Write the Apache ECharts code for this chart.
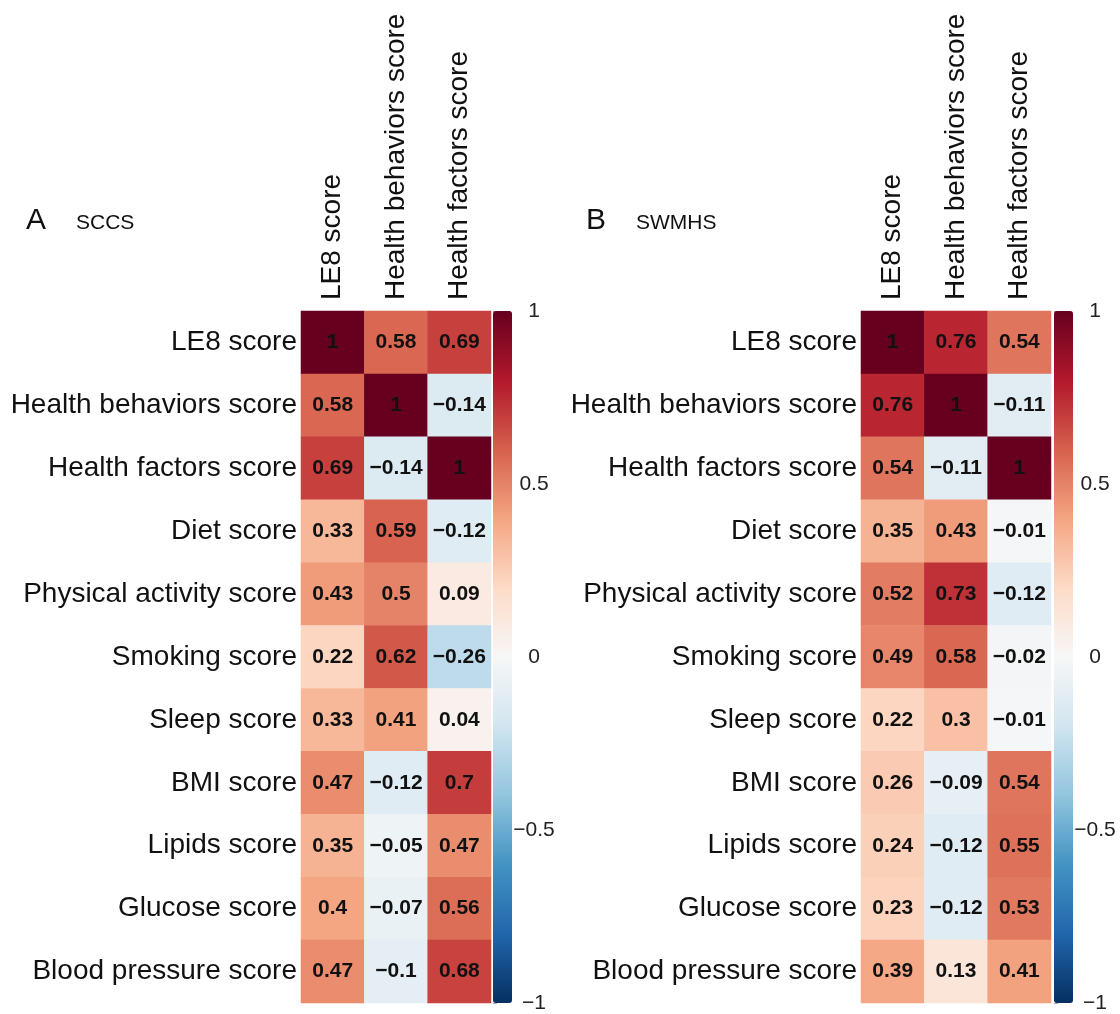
<!DOCTYPE html>
<html>
<head>
<meta charset="utf-8">
<style>
  html, body { margin: 0; padding: 0; background: #fff; }
  #chart { width: 1120px; height: 1014px; }
</style>
<script src="https://cdn.jsdelivr.net/npm/echarts@6/dist/echarts.min.js"></script>
</head>
<body>
<div id="chart"></div>
<script>
// Correlation matrices of Life's Essential 8 components
const colLabels = ['LE8 score', 'Health behaviors score', 'Health factors score'];
const rowLabels = [
  'LE8 score', 'Health behaviors score', 'Health factors score', 'Diet score',
  'Physical activity score', 'Smoking score', 'Sleep score', 'BMI score',
  'Lipids score', 'Glucose score', 'Blood pressure score'
];
// SCCS: one row per rowLabels entry, columns follow colLabels
const sccsValues = [
  [1, 0.58, 0.69],
  [0.58, 1, -0.14],
  [0.69, -0.14, 1],
  [0.33, 0.59, -0.12],
  [0.43, 0.5, 0.09],
  [0.22, 0.62, -0.26],
  [0.33, 0.41, 0.04],
  [0.47, -0.12, 0.7],
  [0.35, -0.05, 0.47],
  [0.4, -0.07, 0.56],
  [0.47, -0.1, 0.68]
];
// SWMHS
const swmhsValues = [
  [1, 0.76, 0.54],
  [0.76, 1, -0.11],
  [0.54, -0.11, 1],
  [0.35, 0.43, -0.01],
  [0.52, 0.73, -0.12],
  [0.49, 0.58, -0.02],
  [0.22, 0.3, -0.01],
  [0.26, -0.09, 0.54],
  [0.24, -0.12, 0.55],
  [0.23, -0.12, 0.53],
  [0.39, 0.13, 0.41]
];
const colorTicks = [-1, -0.5, 0, 0.5, 1];
const panelNames = [['A', 'SCCS'], ['B', 'SWMHS']];

const rdbu = ['#053061', '#2166ac', '#4393c3', '#92c5de', '#d1e5f0', '#f7f7f7',
              '#fddbc7', '#f4a582', '#d6604d', '#b2182b', '#67001f'];
const FONT = '"Liberation Sans", Arial, Helvetica, sans-serif';
const minus = v => String(v).replace('-', '\u2212');

const layout = [
  { left: 301, bar: 493, titleX: 21, subX: 71 },
  { left: 861, bar: 1054, titleX: 581, subX: 631 }
];
const TOP = 311, HEIGHT = 692, WIDTH = 190, BAR_W = 19;
const datasets = [sccsValues, swmhsValues];

const grids = [], xAxes = [], yAxes = [], series = [], visualMaps = [], titles = [];

layout.forEach((p, k) => {
  // heatmap grid
  grids.push({ left: p.left, top: TOP, width: WIDTH, height: HEIGHT });
  // colour bar tick axis grid
  grids.push({ left: p.bar, top: TOP, width: BAR_W, height: HEIGHT });
  const g = k * 2;
  xAxes.push({
    type: 'category', gridIndex: g, data: colLabels, position: 'top',
    axisLine: { show: false }, axisTick: { show: false },
    axisLabel: { rotate: -90, fontSize: 28, color: '#111', fontFamily: FONT, margin: 11 },
    splitArea: { show: false }
  });
  xAxes.push({ type: 'value', gridIndex: g + 1, show: false, min: 0, max: 1 });
  yAxes.push({
    type: 'category', gridIndex: g, data: rowLabels, inverse: true,
    axisLine: { show: false }, axisTick: { show: false },
    axisLabel: { fontSize: 28, color: '#111', fontFamily: FONT, margin: 4 }
  });
  yAxes.push({
    type: 'value', gridIndex: g + 1, position: 'right',
    min: colorTicks[0], max: colorTicks[colorTicks.length - 1], interval: 0.5,
    axisLine: { show: false }, splitLine: { show: false },
    axisTick: { show: true, length: 4, lineStyle: { color: '#aaa' } },
    axisLabel: { fontSize: 21, color: '#222', fontFamily: FONT, margin: 22, align: 'center',
                 formatter: v => minus(v) }
  });
  const vals = datasets[k];
  const data = [];
  vals.forEach((row, r) => row.forEach((v, c) => data.push([c, r, v])));
  series.push({
    type: 'heatmap', xAxisIndex: g, yAxisIndex: g, data: data,
    label: {
      show: true, fontSize: 21, fontWeight: 'bold', color: '#111', fontFamily: FONT,
      formatter: d => minus(d.value[2])
    },
    itemStyle: { borderWidth: 0 },
    emphasis: { disabled: true }
  });
  visualMaps.push({
    type: 'continuous', seriesIndex: k, min: -1, max: 1,
    calculable: false, showLabel: false, text: null,
    left: p.bar, top: TOP, itemWidth: BAR_W, itemHeight: HEIGHT, padding: 0,
    inRange: { color: rdbu }
  });
  titles.push({ text: panelNames[k][0], left: p.titleX, top: 201,
    textStyle: { fontSize: 30, fontWeight: 'normal', color: '#111', fontFamily: FONT } });
  titles.push({ text: panelNames[k][1], left: p.subX, top: 208,
    textStyle: { fontSize: 21, fontWeight: 'normal', color: '#111', fontFamily: FONT } });
});

const chart = echarts.init(document.getElementById('chart'));
chart.setOption({
  backgroundColor: '#fff',
  animation: false,
  title: titles,
  grid: grids,
  xAxis: xAxes,
  yAxis: yAxes,
  visualMap: visualMaps,
  series: series
});
</script>
</body>
</html>
